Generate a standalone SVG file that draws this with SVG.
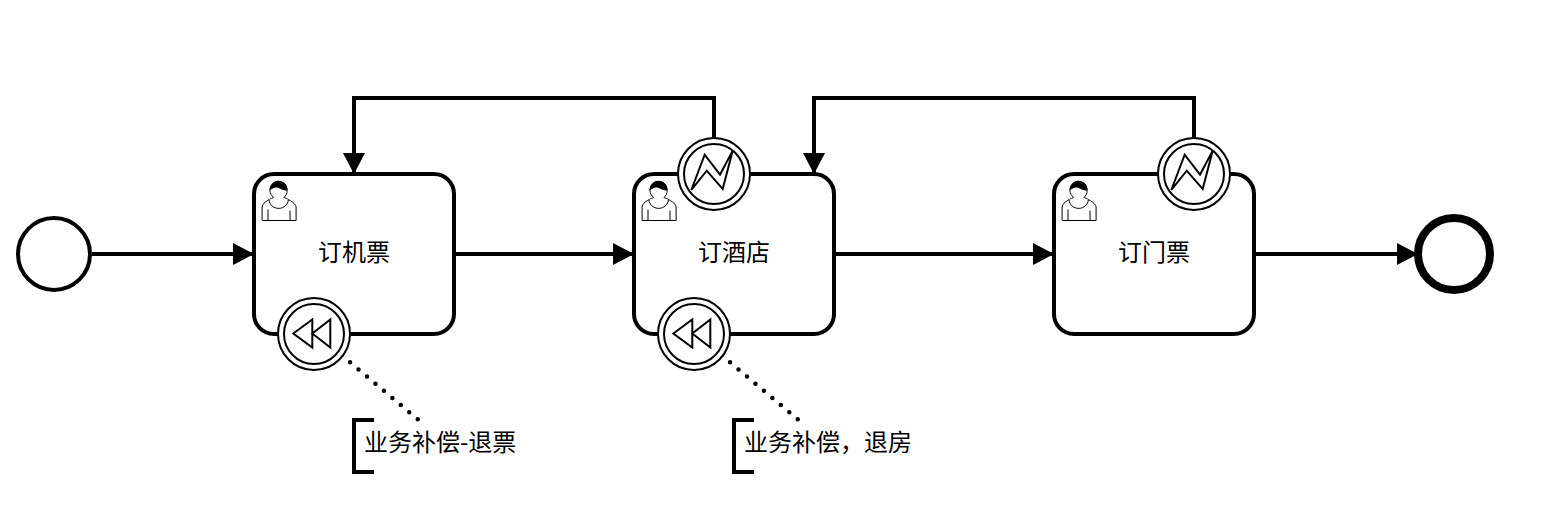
<svg xmlns="http://www.w3.org/2000/svg" width="1542" height="512" viewBox="0 0 1542 512">
<style>
.shape{fill:#fff;stroke:#000;stroke-width:4}
.flow{fill:none;stroke:#000;stroke-width:4}
.dot{fill:none;stroke:#000;stroke-width:4.500;stroke-linecap:round;stroke-dasharray:0 11.060}
.ring{fill:#fff;stroke:#000;stroke-width:2}
.icon{fill:#fff;stroke:#000;stroke-width:2}
.bracket{fill:none;stroke:#000;stroke-width:4}
text{font-family:"Noto Sans CJK SC","Noto Sans",sans-serif;font-size:24px;fill:#000}
.mid{text-anchor:middle;dominant-baseline:central}
.start{text-anchor:start;dominant-baseline:central}
</style>
<defs>
<marker id="arrow" markerUnits="userSpaceOnUse" markerWidth="22" markerHeight="24" refX="21" refY="12" orient="auto">
<path d="M0,1 L21,12 L0,23 Z" fill="#000"/>
</marker>
<g id="user">
<path d="m15,12c.909-.845 1.594-2.049 1.594-3.385 0-2.554-1.805-4.622-4.357-4.622-2.552 0-4.288 2.068-4.288 4.622 0 1.348.974 2.562 1.896 3.405-.529.187-5.669 2.097-5.794 4.756v6.718h17v-6.718c0-2.298-5.528-4.595-6.051-4.776zm-8 6l0 5.500m11 0l0-5" fill="#fff" stroke="#000" stroke-width=".5"/>
<path d="m17.162,13.009c0,2.447-2.158,4.431-4.821,4.431-2.665,0-4.822-1.981-4.822-4.431" fill="#fff" stroke="#000" stroke-width=".5"/>
<path d="m8.100,8.200c0,0 2.251-2.358 4.274-1.177 2.024,1.181 4.221,1.537 4.124.965-.098-.57-.117-3.791-4.191-4.136-3.575.001-4.208,3.367-4.207,4.348z" fill="#000" stroke="#000" stroke-width=".5"/>
</g>
<g id="boundary">
<circle class="ring" r="36"/>
<circle class="ring" r="30"/>
</g>
<g id="comp">
<path class="icon" d="M-20.700,-.5L-1.700,-14.500V13.500ZM-1.700,-.5L16.300,-14.500V13.500Z"/>
</g>
<g id="err">
<path class="icon" d="M-22.700,16L-9.300,-19.300L6,.7L18.700,-23.300L8.700,15L-7.300,-3.300Z"/>
</g>
</defs>
<g id="connectors">
<path class="flow" d="M92,254H254" marker-end="url(#arrow)"/>
<path class="flow" d="M454,254H634" marker-end="url(#arrow)"/>
<path class="flow" d="M834,254H1054" marker-end="url(#arrow)"/>
<path class="flow" d="M1254,254H1418" marker-end="url(#arrow)"/>
<path class="flow" d="M714,138V98H354V174" marker-end="url(#arrow)"/>
<path class="flow" d="M1194,138V98H814V174" marker-end="url(#arrow)"/>
<path class="dot" d="M341.600,355.200L419,420.400"/>
<path class="dot" d="M721.600,355.200L799,420.400"/>
</g>
<g id="start"><circle class="shape" cx="54" cy="254" r="36"/></g>
<g id="task1">
<rect class="shape" x="254" y="174" width="200" height="160" rx="20" ry="20"/>
<use href="#user" transform="translate(254,173.500) scale(2)"/>
<text class="mid" x="354" y="250.500">订机票</text>
</g>
<g id="task2">
<rect class="shape" x="634" y="174" width="200" height="160" rx="20" ry="20"/>
<use href="#user" transform="translate(634,173.500) scale(2)"/>
<text class="mid" x="734" y="250.500">订酒店</text>
</g>
<g id="task3">
<rect class="shape" x="1054" y="174" width="200" height="160" rx="20" ry="20"/>
<use href="#user" transform="translate(1054,173.500) scale(2)"/>
<text class="mid" x="1154" y="250.500">订门票</text>
</g>
<g id="end"><circle cx="1454" cy="254" r="36" fill="#fff" stroke="#000" stroke-width="8"/></g>
<g id="comp1" transform="translate(314,334)"><use href="#boundary"/><use href="#comp"/></g>
<g id="comp2" transform="translate(694,334)"><use href="#boundary"/><use href="#comp"/></g>
<g id="error1" transform="translate(714,174)"><use href="#boundary"/><use href="#err"/></g>
<g id="error2" transform="translate(1194,174)"><use href="#boundary"/><use href="#err"/></g>
<g id="note1">
<path class="bracket" d="M374,420H354V472H374"/>
<text class="start" x="364" y="440">业务补偿-退票</text>
</g>
<g id="note2">
<path class="bracket" d="M754,420H734V472H754"/>
<text class="start" x="744" y="440">业务补偿，退房</text>
</g>
</svg>
